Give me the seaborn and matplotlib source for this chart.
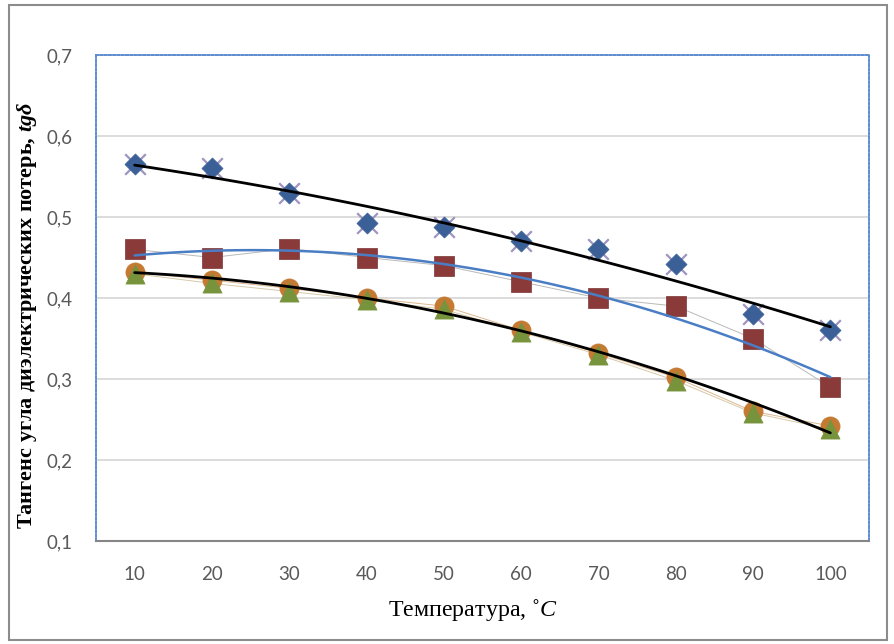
import matplotlib
matplotlib.use("Agg")
import matplotlib.pyplot as plt
import seaborn as sns
import numpy as np
from matplotlib.patches import Rectangle
from matplotlib.ticker import FixedLocator, FixedFormatter

# ---- data ----
temps = [10, 20, 30, 40, 50, 60, 70, 80, 90, 100]
tg_diamond = [0.565, 0.560, 0.530, 0.492, 0.488, 0.470, 0.460, 0.442, 0.380, 0.360]
tg_cross = [0.565, 0.560, 0.530, 0.492, 0.488, 0.470, 0.460, 0.442, 0.380, 0.360]
tg_square = [0.460, 0.450, 0.461, 0.450, 0.440, 0.420, 0.400, 0.390, 0.350, 0.290]
tg_circle = [0.432, 0.422, 0.412, 0.400, 0.390, 0.360, 0.332, 0.302, 0.260, 0.242]
tg_triangle = [0.430, 0.418, 0.408, 0.398, 0.386, 0.358, 0.330, 0.298, 0.258, 0.238]
y_ticks = [0.1, 0.2, 0.3, 0.4, 0.5, 0.6, 0.7]
y_tick_labels = ["0,1", "0,2", "0,3", "0,4", "0,5", "0,6", "0,7"]
x_tick_labels = ["10", "20", "30", "40", "50", "60", "70", "80", "90", "100"]

sns.set_theme(style="white")
plt.rcParams.update({
    "font.family": ["Lato", "DejaVu Sans"],
    "mathtext.fontset": "custom",
    "mathtext.rm": "Liberation Serif",
    "mathtext.it": "Liberation Serif:italic",
    "mathtext.bf": "Liberation Serif:italic:bold",
})

L, R, T, B = 96, 869, 55, 541
fig = plt.figure(figsize=(8.95, 6.44), dpi=100)
ax = fig.add_axes([L / 895, 1 - B / 644, (R - L) / 895, (B - T) / 644])

# chart border
fig.patches.append(Rectangle((9 / 895, 4 / 644), (887 - 9) / 895, (639 - 4) / 644,
                             transform=fig.transFigure, fill=False,
                             edgecolor="#8c8c8c", lw=1.5, zorder=0))

# thin connecting lines
sns.lineplot(x=temps, y=tg_square, ax=ax, color="#b9b9b9", lw=0.7, zorder=1, estimator=None)
sns.lineplot(x=temps, y=tg_circle, ax=ax, color="#dcb78e", lw=0.7, zorder=1, estimator=None)
sns.lineplot(x=temps, y=tg_triangle, ax=ax, color="#d6c9a8", lw=0.7, zorder=1, estimator=None)

# markers
sns.scatterplot(x=temps, y=tg_cross, ax=ax, marker="x", s=220, color="#a094c0",
                linewidth=1.6, zorder=2)
sns.scatterplot(x=temps, y=tg_diamond, ax=ax, marker="D", s=115, color="#3b5f97",
                edgecolor="#3b5f97", linewidth=0.5, zorder=3)
sns.scatterplot(x=temps, y=tg_square, ax=ax, marker="s", s=200, color="#8b3a3a",
                edgecolor="#7a3333", linewidth=0.5, zorder=3)
sns.scatterplot(x=temps, y=tg_circle, ax=ax, marker="o", s=190, color="#c47a33",
                edgecolor="#c47a33", linewidth=0.5, zorder=3)
sns.scatterplot(x=temps, y=tg_triangle, ax=ax, marker="^", s=190, color="#77933c",
                edgecolor="#77933c", linewidth=0.5, zorder=4)

# trend lines (polynomial, order 2)
sns.regplot(x=temps, y=tg_diamond, ax=ax, order=2, ci=None, scatter=False,
            line_kws=dict(color="black", lw=2, zorder=6))
sns.regplot(x=temps, y=tg_square, ax=ax, order=2, ci=None, scatter=False,
            line_kws=dict(color="#4a7ec4", lw=1.8, zorder=6))
sns.regplot(x=temps, y=tg_circle, ax=ax, order=2, ci=None, scatter=False,
            line_kws=dict(color="black", lw=2, zorder=6))

# axes
ax.set_xlim(5, 105)
ax.set_ylim(0.1, 0.7)
ax.yaxis.set_major_locator(FixedLocator(y_ticks))
ax.yaxis.set_major_formatter(FixedFormatter(y_tick_labels))
ax.xaxis.set_major_locator(FixedLocator(temps))
ax.xaxis.set_major_formatter(FixedFormatter(x_tick_labels))
ax.xaxis.set_minor_locator(FixedLocator([5 + 10 * i for i in range(11)]))
ax.tick_params(axis="x", which="major", length=0, pad=18, labelsize=13.5, labelcolor="#595959")
ax.tick_params(axis="x", which="minor", length=6, width=1.3, color="#868686", direction="out")
ax.tick_params(axis="y", which="major", length=0, pad=17, labelsize=13.5, labelcolor="#595959")
ax.grid(False)
ax.yaxis.grid(True, color="#d9d9d9", lw=1.3, zorder=0)
ax.set_axisbelow(True)

for side in ["left", "top", "right"]:
    ax.spines[side].set_visible(True)
    ax.spines[side].set_color("#5b8bd0")
    ax.spines[side].set_linestyle((0, (1.1, 1.1)))
    ax.spines[side].set_linewidth(1.4)
ax.spines["bottom"].set_color("#868686")
ax.spines["bottom"].set_linewidth(1.5)

ax.set_xlabel("Температура, ˚$C$", family=["Liberation Serif", "DejaVu Serif"],
              fontsize=17.3, color="black")
ax.set_ylabel("Тангенс угла диэлектрических потерь, $\\mathbf{tgδ}$",
              family=["Liberation Serif", "DejaVu Serif"], fontweight="bold",
              fontsize=16, color="black")
ax.xaxis.set_label_coords((473 - L) / (R - L), -(610 - B) / (B - T))
ax.xaxis.label.set_va("center")
ax.yaxis.set_label_coords(-(L - 27) / (R - L), (B - 315) / (B - T))
ax.yaxis.label.set_va("center")

fig.savefig("out.png", dpi=100)
